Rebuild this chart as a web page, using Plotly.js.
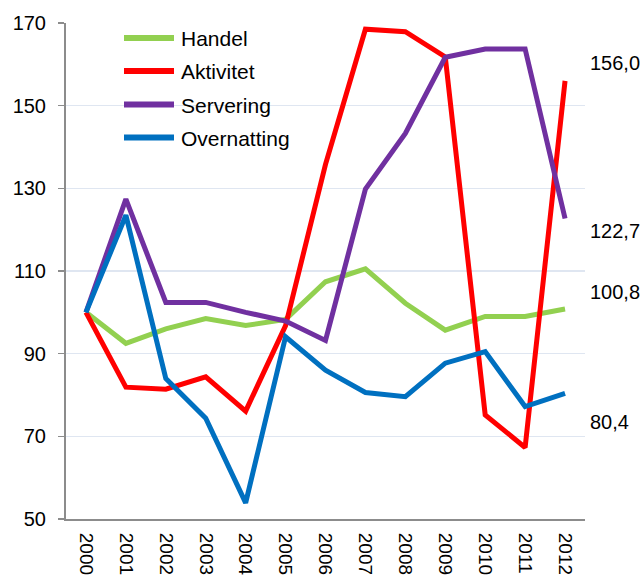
<!DOCTYPE html>
<html>
<head>
<meta charset="utf-8">
<script src="https://cdn.plot.ly/plotly-3.0.1.min.js"></script>
<style>html,body{margin:0;padding:0;background:#fff;}#chart{width:641px;height:577px;}</style>
</head>
<body>
<div id="chart"></div>
<script>
var years = ["2000","2001","2002","2003","2004","2005","2006","2007","2008","2009","2010","2011","2012"];
var handel =      [100, 92.5, 96.0, 98.5, 96.8, 98.3, 107.4, 110.5, 102.2, 95.7, 99.0, 99.0, 100.8];
var aktivitet =   [100, 81.9, 81.4, 84.4, 76.1, 96.8, 135.8, 168.5, 167.9, 161.8, 75.2, 67.3, 156.0];
var servering =   [100, 127.4, 102.4, 102.4, 100.0, 97.9, 93.2, 129.8, 143.3, 161.7, 163.7, 163.7, 122.7];
var overnatting = [100, 123.5, 84.0, 74.4, 53.9, 94.1, 86.0, 80.6, 79.6, 87.7, 90.5, 77.2, 80.4];
var seriesNames = ["Handel", "Aktivitet", "Servering", "Overnatting"];
var yTicks = [50, 70, 90, 110, 130, 150, 170];

var colors = ["#92D050", "#FF0000", "#7030A0", "#0070C0"];
var allSeries = [handel, aktivitet, servering, overnatting];
var FONT = "Liberation Sans, Arial, sans-serif";
var traces = allSeries.map(function (s, i) {
  return {
    x: years, y: s, name: seriesNames[i], type: "scatter", mode: "lines",
    line: {color: colors[i], width: 5}, showlegend: false
  };
});

// plot area geometry (pixels) used to place the hand-drawn legend
var plotL = 66, plotW = 519, plotT = 23, plotH = 496;
function px2x(p) { return (p - plotL) / plotW; }
function px2y(p) { return 1 - (p - plotT) / plotH; }

function fmt(v) { return v.toFixed(1).replace(".", ","); }
// label positions (value-axis) chosen to match the reference label placement
var labelY = [105.0, 160.3, 119.7, 73.5];
var annotations = allSeries.map(function (s, i) {
  return {
    text: fmt(s[s.length - 1]), xref: "paper", yref: "y", x: 1.005, y: labelY[i],
    xanchor: "left", yanchor: "middle", showarrow: false,
    font: {family: FONT, size: 20, color: "#000"}
  };
});
var shapes = [];
var legendRowY = [38, 71, 104.5, 137.5];
seriesNames.forEach(function (n, i) {
  shapes.push({
    type: "line", xref: "paper", yref: "paper",
    x0: px2x(124), x1: px2x(174), y0: px2y(legendRowY[i]), y1: px2y(legendRowY[i]),
    line: {color: colors[i], width: 6}
  });
  annotations.push({
    text: n, xref: "paper", yref: "paper", x: px2x(179), y: px2y(legendRowY[i] + 1),
    xanchor: "left", yanchor: "middle", showarrow: false,
    font: {family: FONT, size: 21, color: "#000"}
  });
});

var layout = {
  width: 641, height: 577,
  margin: {l: 66, r: 56, t: 23, b: 58},
  paper_bgcolor: "#fff", plot_bgcolor: "#fff",
  font: {family: FONT, size: 20, color: "#000"},
  showlegend: false,
  xaxis: {
    type: "category", range: [-0.5, 12.5], tickangle: 90,
    showgrid: false, zeroline: false, showline: true, linecolor: "#8c8c8c", linewidth: 2,
    ticks: "", ticklabelstandoff: 8, tickfont: {size: 19}
  },
  yaxis: {
    range: [50, 170], tickvals: yTicks, ticktext: yTicks.map(String),
    showgrid: true, gridcolor: "#dfe6f1", gridwidth: 1.5, zeroline: false,
    showline: true, linecolor: "#8c8c8c", linewidth: 2,
    ticks: "outside", ticklen: 6, tickcolor: "#8c8c8c", tickwidth: 1.5,
    ticklabelstandoff: 8, tickfont: {size: 20}
  },
  shapes: shapes,
  annotations: annotations
};

Plotly.newPlot("chart", traces, layout, {displayModeBar: false, staticPlot: true});
</script>
</body>
</html>
